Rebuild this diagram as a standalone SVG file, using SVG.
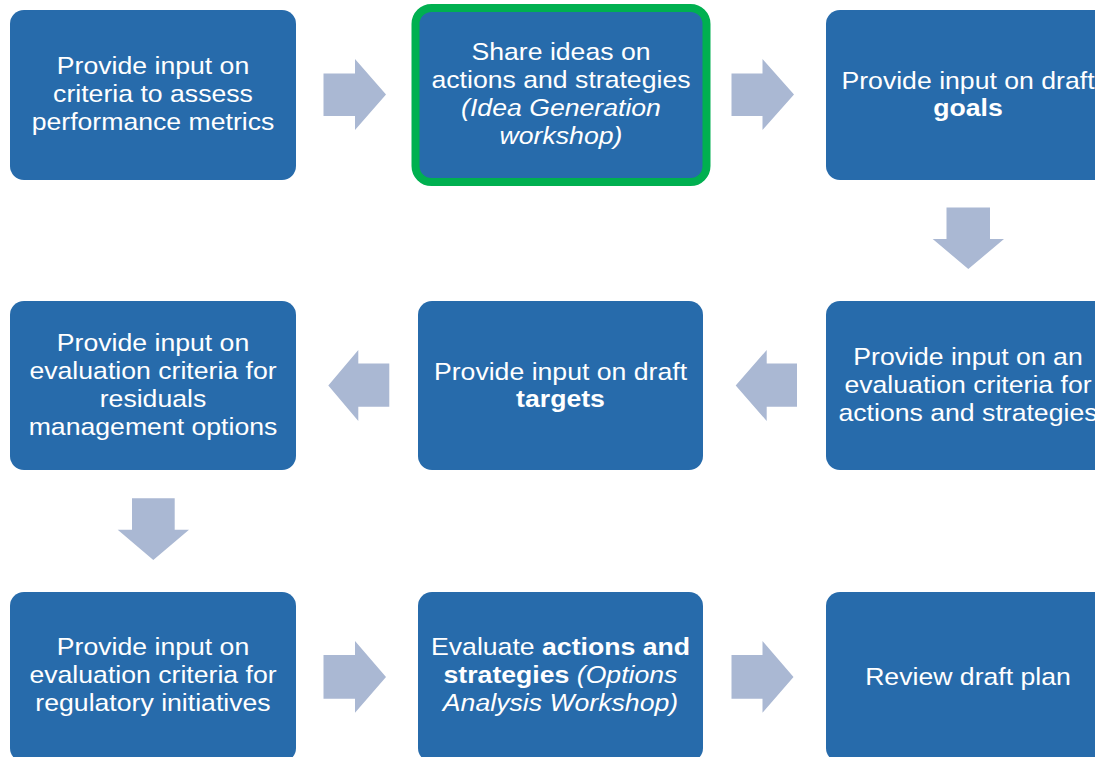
<svg xmlns="http://www.w3.org/2000/svg" width="1095" height="757" viewBox="0 0 1095 757">
<defs>
<style>
.box{fill:#276BAB;}
.hl{stroke:#00B050;stroke-width:8;}
.arr{fill:#AAB8D3;}
.t{font-family:"Liberation Sans",Arial,sans-serif;font-size:24px;fill:#FFFFFF;text-anchor:middle;}
.b{font-weight:bold;}
.i{font-style:italic;}
</style>
</defs>
<rect width="1095" height="757" fill="#FFFFFF"/>
<g id="connectors">
<polygon class="arr" points="323.5,73.5 355,73.5 355,59 386,94.5 355,130 355,116 323.5,116"/>
<polygon class="arr" points="731.5,73.5 762.5,73.5 762.5,59 794,94.5 762.5,130 762.5,116 731.5,116"/>
<polygon class="arr" points="946.5,207.5 990,207.5 990,239 1004,239 968.3,269 932.7,239 946.5,239"/>
<polygon class="arr" points="797,363.5 766.7,363.5 766.7,350 735.7,385.5 766.7,421 766.7,406.7 797,406.7"/>
<polygon class="arr" points="389.3,363.5 358.3,363.5 358.3,350 328.3,385.5 358.3,421 358.3,406.7 389.3,406.7"/>
<polygon class="arr" points="132,498.3 174.7,498.3 174.7,529.7 189,529.7 153.3,560 117.7,529.7 132,529.7"/>
<polygon class="arr" points="323.5,655 355,655 355,641 386,677 355,712.7 355,698.7 323.5,698.7"/>
<polygon class="arr" points="731.5,655 762.5,655 762.5,641 793.5,677 762.5,712.7 762.5,698.7 731.5,698.7"/>
</g>
<g id="n1">
<rect class="box" x="10" y="10" width="286" height="170" rx="14"/>
<text class="t" transform="translate(153 0) scale(1.11 1)"><tspan x="0" y="74">Provide input on</tspan><tspan x="0" y="102">criteria to assess</tspan><tspan x="0" y="130">performance metrics</tspan></text>
</g>
<g id="n2">
<rect class="box hl" x="415.5" y="8" width="291" height="174" rx="16"/>
<text class="t" transform="translate(561 0) scale(1.11 1)"><tspan x="0" y="60">Share ideas on</tspan><tspan x="0" y="88">actions and strategies</tspan><tspan x="0" y="116" class="i">(Idea Generation</tspan><tspan x="0" y="144" class="i">workshop)</tspan></text>
</g>
<g id="n3">
<rect class="box" x="826" y="10" width="286" height="170" rx="14"/>
<text class="t" transform="translate(968 0) scale(1.11 1)"><tspan x="0" y="89">Provide input on draft</tspan><tspan x="0" y="116" class="b">goals</tspan></text>
</g>
<g id="n4">
<rect class="box" x="826" y="301" width="286" height="169" rx="14"/>
<text class="t" transform="translate(968 0) scale(1.11 1)"><tspan x="0" y="365">Provide input on an</tspan><tspan x="0" y="393">evaluation criteria for</tspan><tspan x="0" y="421">actions and strategies</tspan></text>
</g>
<g id="n5">
<rect class="box" x="418" y="301" width="285" height="169" rx="14"/>
<text class="t" transform="translate(560.5 0) scale(1.11 1)"><tspan x="0" y="380">Provide input on draft</tspan><tspan x="0" y="407" class="b">targets</tspan></text>
</g>
<g id="n6">
<rect class="box" x="10" y="301" width="286" height="169" rx="14"/>
<text class="t" transform="translate(153 0) scale(1.11 1)"><tspan x="0" y="351">Provide input on</tspan><tspan x="0" y="379">evaluation criteria for</tspan><tspan x="0" y="407">residuals</tspan><tspan x="0" y="435">management options</tspan></text>
</g>
<g id="n7">
<rect class="box" x="10" y="592" width="286" height="170" rx="14"/>
<text class="t" transform="translate(153 0) scale(1.11 1)"><tspan x="0" y="655">Provide input on</tspan><tspan x="0" y="683">evaluation criteria for</tspan><tspan x="0" y="711">regulatory initiatives</tspan></text>
</g>
<g id="n8">
<rect class="box" x="418" y="592" width="285" height="170" rx="14"/>
<text class="t" transform="translate(560.5 0) scale(1.11 1)"><tspan x="0" y="655">Evaluate <tspan class="b">actions and</tspan></tspan><tspan x="0" y="683"><tspan class="b">strategies</tspan> <tspan class="i">(Options</tspan></tspan><tspan x="0" y="711" class="i">Analysis Workshop)</tspan></text>
</g>
<g id="n9">
<rect class="box" x="826" y="592" width="286" height="170" rx="14"/>
<text class="t" transform="translate(968 0) scale(1.11 1)"><tspan x="0" y="685">Review draft plan</tspan></text>
</g>
</svg>
